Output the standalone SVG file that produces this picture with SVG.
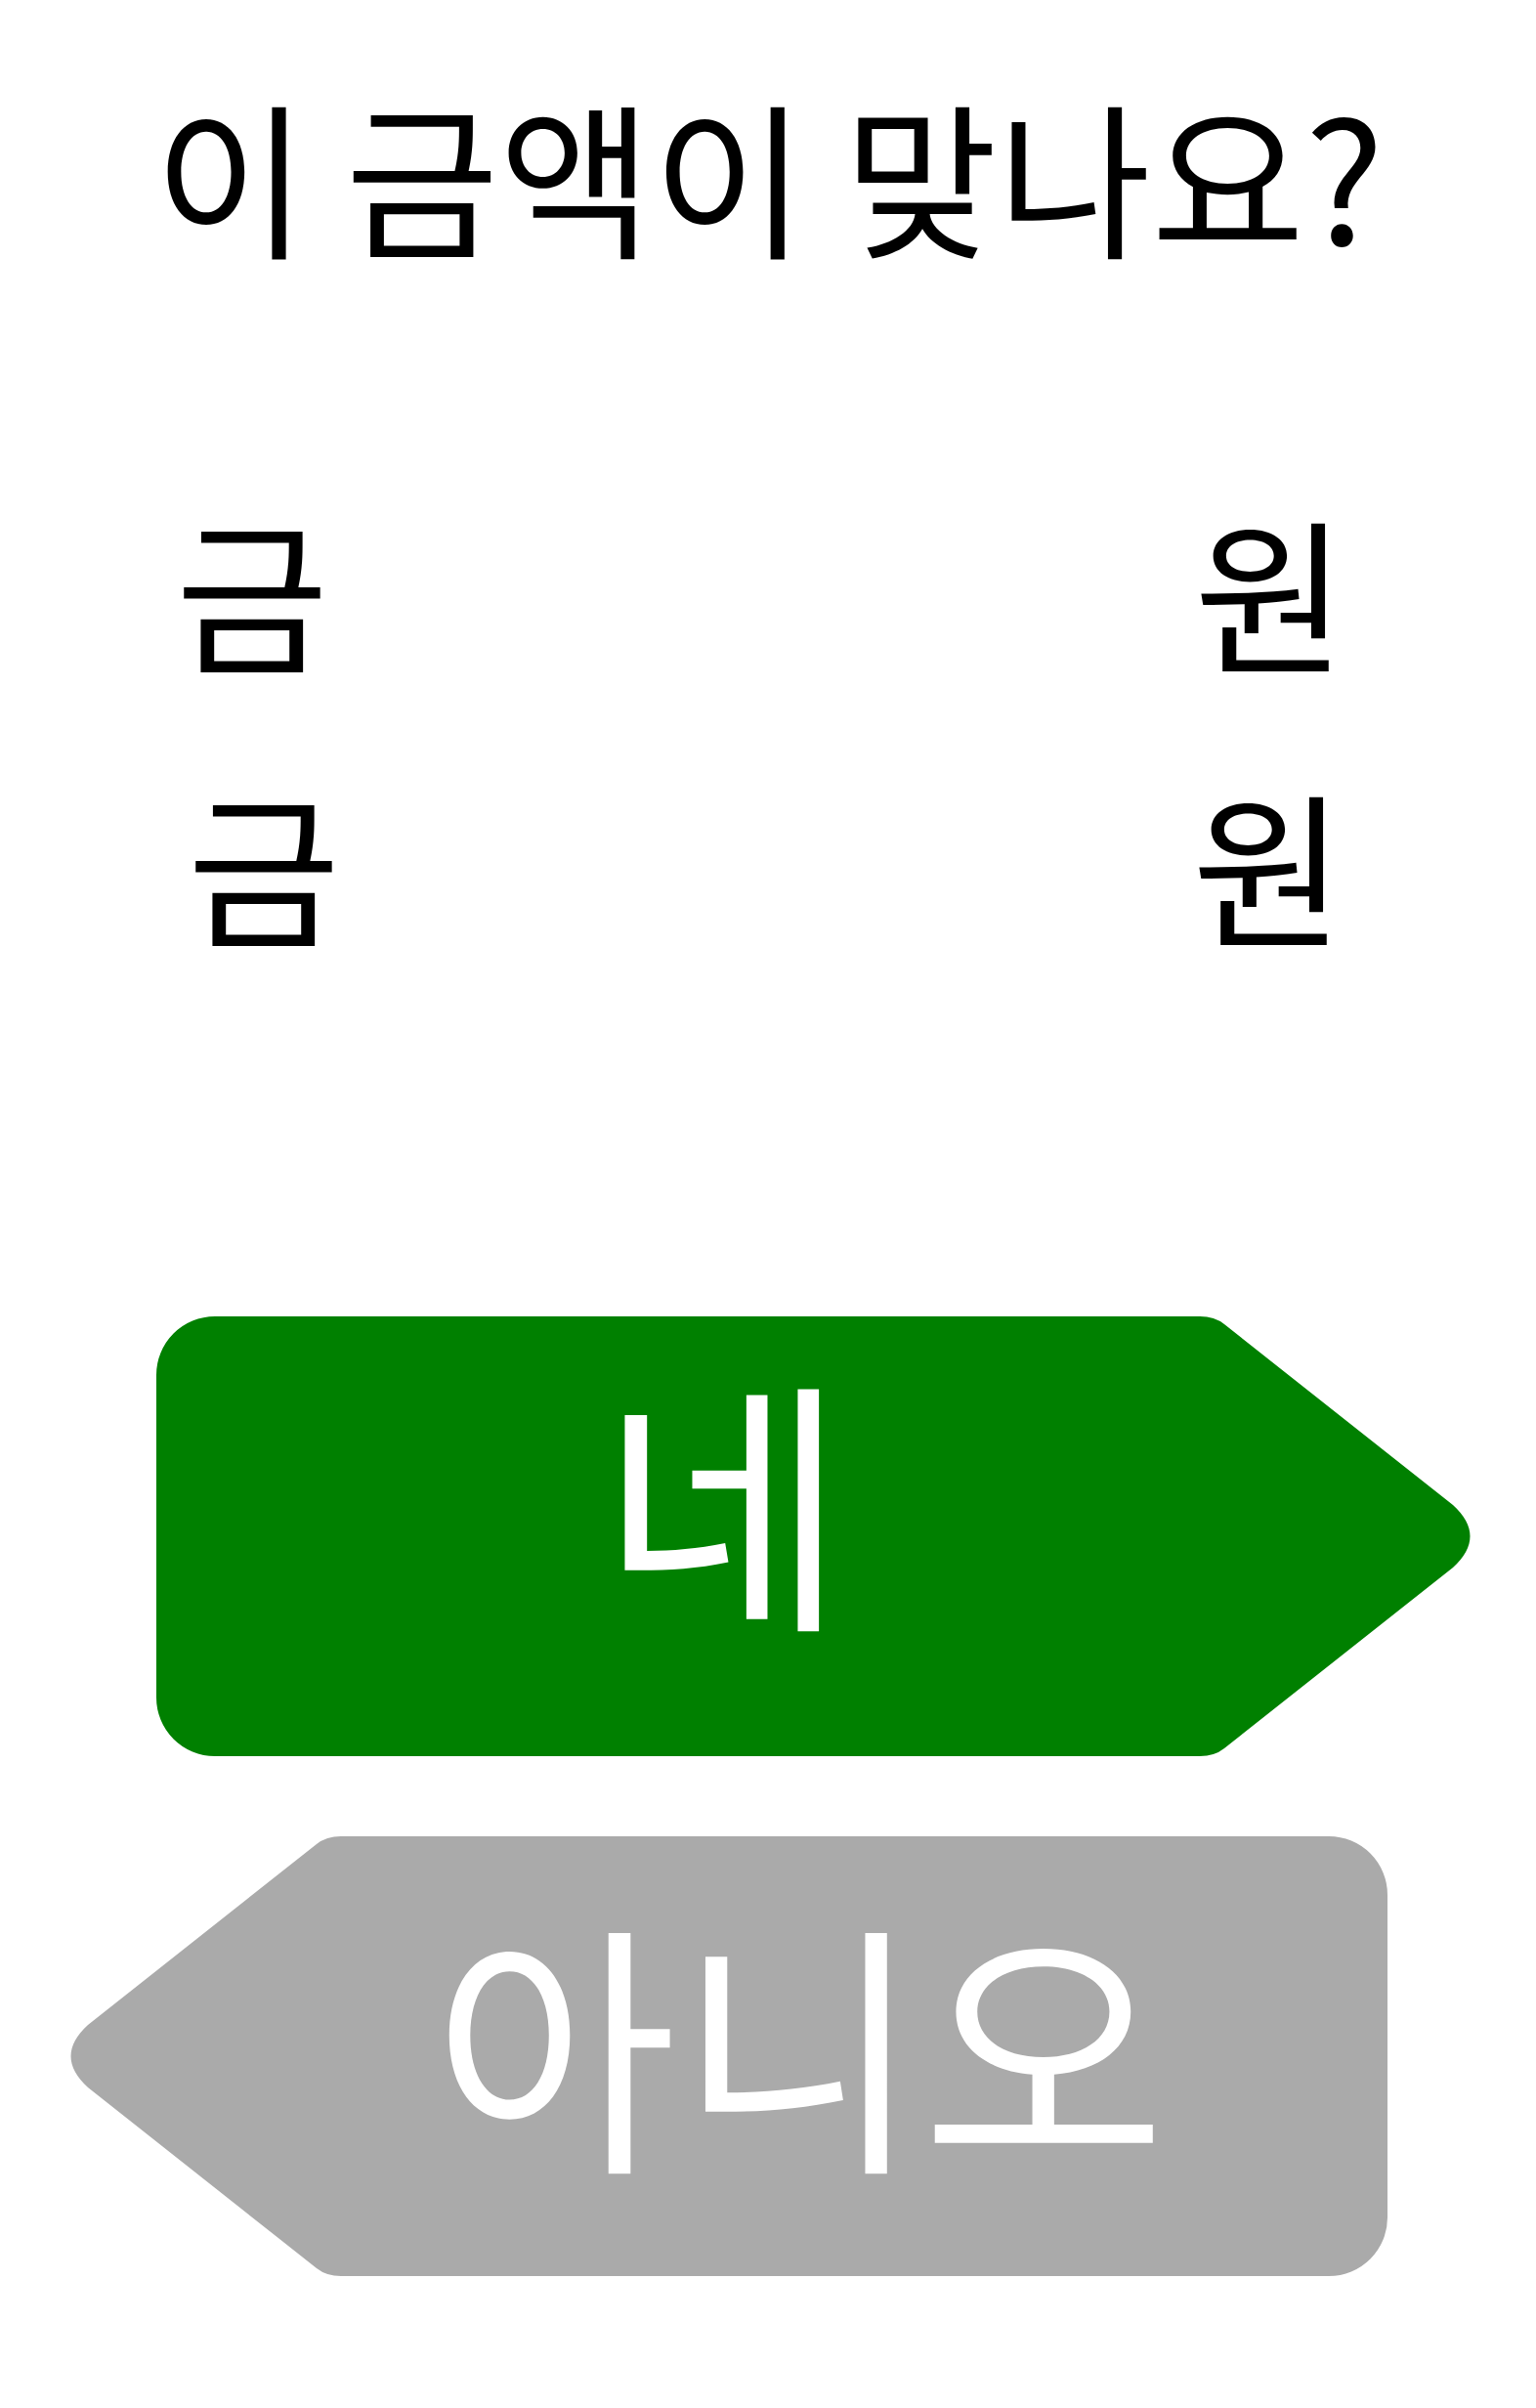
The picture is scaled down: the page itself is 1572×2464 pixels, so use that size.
<svg xmlns="http://www.w3.org/2000/svg" width="1572" height="2464" viewBox="0 0 1572 2464">
<style>
text{font-family:"Noto Sans CJK KR","Noto Sans",sans-serif;text-anchor:middle;}
.t{font-size:170px;fill:#000;}
.b{font-size:274px;fill:#fff;}
</style>
<rect width="1572" height="2464" fill="#fff"/>
<g id="title"><text class="t" x="787" y="251" style="font-size:171px">이 금액이 맞나요?</text></g>
<g id="row1">
<text class="t" x="258" y="677">금</text>
<text class="t" x="1300" y="677">원</text>
</g>
<g id="row2">
<text class="t" x="270" y="957">금</text>
<text class="t" x="1298" y="957">원</text>
</g>
<g id="yes">
<path d="M220,1347 L1228,1347 Q1243,1347 1253,1355 L1487,1540 Q1522,1572 1487,1604 L1253,1789 Q1243,1797 1228,1797 L220,1797 A60,60 0 0 1 160,1737 L160,1407 A60,60 0 0 1 220,1347 Z" fill="#008000"/>
<text class="b" x="740" y="1648">네</text>
</g>
<g id="no">
<path d="M1360,1879 L349,1879 Q334,1879 324,1887 L90,2072 Q55,2104 90,2136 L324,2321 Q334,2329 349,2329 L1360,2329 A60,60 0 0 0 1420,2269 L1420,1939 A60,60 0 0 0 1360,1879 Z" fill="#aaaaaa"/>
<text class="b" x="818" y="2203" style="font-size:272px">아니오</text>
</g>
<g id="connectors"></g>
</svg>
